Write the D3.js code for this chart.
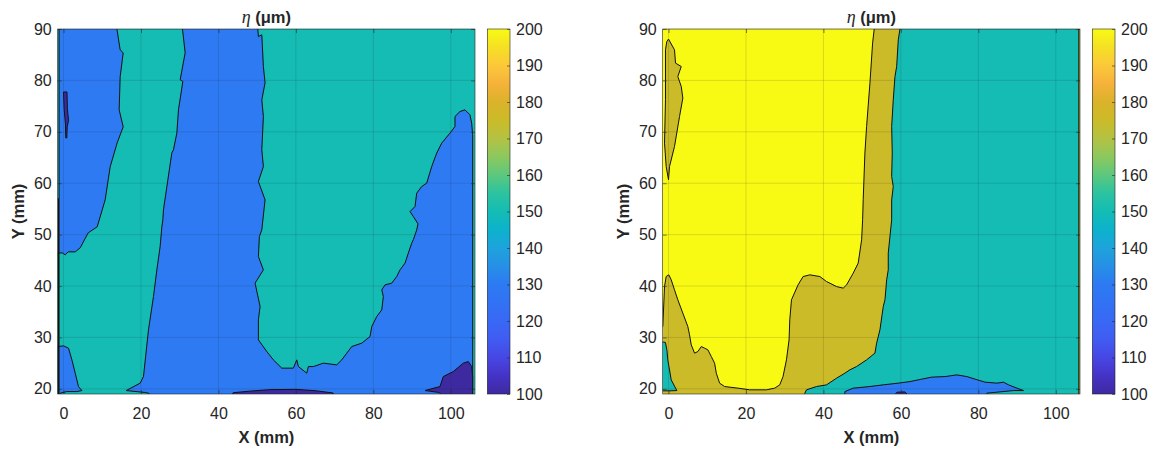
<!DOCTYPE html>
<html><head><meta charset="utf-8">
<script src="https://cdn.jsdelivr.net/npm/d3@7"></script>
<style>
body{margin:0;background:#fff}
svg{display:block}
</style></head>
<body><svg id="chart" width="1153" height="450"></svg>
<script>
// ---------- data ----------
const xDomain = [-1.5, 106.25];
const yDomain = [19, 90];
const xTicks = [0, 20, 40, 60, 80, 100];
const yTicks = [20, 30, 40, 50, 60, 70, 80, 90];
const cbTicks = [100, 110, 120, 130, 140, 150, 160, 170, 180, 190, 200];
const titleSymbol = "η";
const titleUnit = " (μm)";
const xLabel = "X (mm)";
const yLabel = "Y (mm)";

// parula-like colormap (value -> colour)
const colormap = [
  [100, "#3d2aa0"], [105, "#4533c6"], [110, "#4747e4"], [115, "#405cf2"],
  [120, "#3968f5"], [125, "#3272f4"], [130, "#2d7af3"], [135, "#2690e6"],
  [140, "#1ea3dc"], [145, "#0cb2cc"], [150, "#14bcb4"], [155, "#2cc3a0"],
  [160, "#5cc87e"], [165, "#8cc85e"], [170, "#b4c242"], [175, "#cbbb28"],
  [180, "#dab22a"], [185, "#f5b23a"], [190, "#fcc83a"], [195, "#f5e024"],
  [200, "#f8fa14"]
];

// ----- left panel: contour regions [x mm, y mm] -----
const leftBase = 130;
const leftTealWest = [[13.78,91],[30.71,91],[30.71,90.04],[31.41,85.37],[30.12,80.12],[30.81,79.8],[29.68,74.28],[29.26,69.75],[28.39,66.5],[27.97,65.91],[26.68,59.3],[25.81,54.82],[25.65,52.88],[25.39,51.52],[24.95,47.68],[24.1,43.15],[23.23,37.96],[21.94,31.48],[20.65,22.39],[19.79,21.11],[16.18,19.67],[21,19.3],[22,19.15],[22.5,18],[-3,18],[-3,46.3],[-0.34,46.46],[0.44,46.07],[1.21,46.65],[3.02,46.65],[4.31,47.43],[6.37,50.35],[8.7,51.52],[10.76,56.77],[12.05,63.19],[13.86,67.86],[15.41,70.97],[14.37,74.28],[14.63,80.7],[15.41,85.37],[14.63,85.95],[13.78,90.04]];
const leftTealEast = [[50.17,91],[108,91],[108,18],[105.65,18],[105.65,69.42],[105.39,71.69],[104.95,73.31],[103.66,74.28],[102.37,73.95],[101.08,72.98],[101.08,71.03],[99.79,69.75],[97.65,67.8],[96.36,65.86],[95.07,63.25],[93.78,60.02],[92.49,59.36],[91.2,58.07],[90.76,55.47],[89.47,54.49],[90.32,53.52],[91.54,52.1],[91.2,50.93],[90.32,48.99],[89.91,48.35],[89.03,46.4],[88.18,44.46],[86.89,43.15],[86.04,41.85],[84.75,40.56],[83.02,40.23],[82.17,39.26],[82.58,37.96],[82.17,35.37],[80.88,34.07],[79.59,32.12],[79.15,30.18],[77.01,28.89],[74.43,28.23],[73.14,26.95],[71.85,25.64],[70.55,24.67],[67.1,25],[64.52,24.34],[63.23,24.34],[62.81,23.05],[60.65,24.34],[60.23,25.64],[59.35,24.03],[56.36,24.03],[54.19,25.64],[52.49,27.26],[50.32,29.53],[50.32,33.42],[50.76,36.01],[49.47,40.56],[51.61,43.15],[50.32,45.74],[50.58,49.63],[51.2,50.93],[52.05,56.77],[50.32,60.33],[51.61,63.25],[51.2,66.5],[51.61,72.98],[51.2,76.22],[52.05,79.53],[51.61,82.7],[51.2,88.87],[50.32,88.54],[50.17,90.04]];
const leftBlueCorner = [[-3,28.3],[-1.29,28.23],[0,28.37],[1.29,27.92],[2.17,25.64],[3.02,23.05],[3.87,20.45],[4.75,19.67],[3.46,19.47],[0.88,19.47],[-0.85,19.16],[-0.9,18],[-3,18]];
const leftPurpleSpot = [[0,77.75],[0.9,77.75],[1.0,74.5],[1.3,72.2],[0.95,71.0],[0.85,68.8],[0.6,68.8],[0.5,71.5],[0.15,74.5]];
const leftPurpleBottom = [[43,18],[43.8,19.25],[48,19.55],[53.3,19.85],[60,19.9],[65,19.65],[69.6,19.2],[70.5,18]];
const leftPurpleCorner = [[93.34,19.67],[97.21,20.45],[98.06,22.39],[100.65,23.37],[103.23,25.0],[104.52,25.31],[105.39,24.34],[105.65,22.39],[105.65,18],[98.5,18],[97,19.3]];
const leftEdgeTeal = [[-3,91],[-1.15,91],[-1.15,18],[-3,18]];
const leftEdgeOlive = [[-3,57],[-1.3,57],[-1.3,18],[-3,18]];

// ----- right panel: contour regions [x mm, y mm] -----
const rightBase = 175;
const rightYellow = [[-3,91],[53.12,91],[53.12,90.04],[52.7,87.26],[52.01,79.47],[51.15,71.03],[50.71,65.86],[50.27,56.77],[50.12,52.88],[49.86,48.99],[48.98,44.46],[47.69,42.51],[45.98,40.23],[45.1,39.59],[43.39,39.9],[40.8,40.88],[39.07,41.85],[36.48,42.18],[34.75,41.85],[33.45,40.23],[31.75,37.32],[31.31,33.42],[31.13,29.53],[30.45,25.64],[29.57,22.39],[28.72,20.78],[27.43,20.14],[25.28,19.81],[20.96,19.81],[17.93,20.14],[14.49,20.45],[13.2,21.11],[12.34,23.05],[11.9,25.0],[11.05,26.28],[10.17,27.59],[9.31,27.92],[8.46,28.23],[7.58,27.26],[6.73,26.95],[5.87,28.56],[5.43,30.51],[4.99,32.12],[3.7,34.73],[2.41,37.32],[1.55,39.26],[0.7,41.21],[0.08,42.18],[-0.6,41.85],[-1.03,39.9],[-1.47,32.12],[-3,31]];
const rightOliveSliver = [[-0.44,87.57],[0,88.04],[1.55,85.95],[1.81,83.37],[3.29,82.7],[2.41,80.76],[3.29,78.81],[3.7,76.56],[2.85,72.98],[1.55,67.14],[0.26,63.25],[0,60.66],[-0.6,63.25],[-1.03,67.8],[-0.78,76.22],[-0.78,85.95]];
const rightTealEast = [[59.77,91],[108,91],[108,18],[35.19,18],[35.19,19.16],[35.63,19.81],[38.21,20.45],[40.8,20.78],[43.39,22.08],[45.54,23.05],[46.83,23.7],[48.56,24.34],[51.15,25.64],[53.3,26.95],[53.74,28.89],[54.59,31.48],[55.45,36.01],[55.89,37.32],[56.33,41.21],[56.74,43.15],[56.74,46.4],[57.62,52.88],[57.62,56.77],[58.03,59.36],[57.62,61.3],[57.77,65.86],[57.62,71.03],[58.03,76.22],[58.47,80.76],[58.91,82.7],[59.33,87.9],[59.77,90.04]];
const rightTealCorner = [[-3,29.1],[-1.2,29.1],[-0.78,29.01],[-0.4,27.5],[-0.18,25.64],[0.7,21.75],[2.15,19.67],[0.26,19.61],[-1.47,19.61],[-3,19.61]];
const rightBlueBottom = [[45.54,18],[45.54,19.47],[47.69,20.14],[52.01,20.45],[55.45,20.78],[59.33,21.11],[62.35,21.42],[65.38,21.89],[67.97,22.28],[71.41,22.39],[74.44,22.72],[77.03,22.39],[79.17,21.89],[81.76,21.3],[84.79,21.11],[86.49,21.3],[87.79,20.78],[89.96,20.14],[91.67,19.67],[89.08,19.67],[82.2,19.16],[81.5,18]];
const rightPurpleBottom = [[57.5,18],[59,19.35],[61,19.4],[63,18]];
const rightEdgeOlive = [[105.95,91],[108,91],[108,18],[105.95,18]];

const leftLayers = [
  {level: 150, pts: leftTealWest},
  {level: 150, pts: leftTealEast},
  {level: 130, pts: leftBlueCorner},
  {level: 100, pts: leftPurpleSpot},
  {level: 100, pts: leftPurpleBottom},
  {level: 100, pts: leftPurpleCorner},
  {level: 150, pts: leftEdgeTeal},
  {level: 175, pts: leftEdgeOlive}
];
const rightLayers = [
  {level: 200, pts: rightYellow},
  {level: 175, pts: rightOliveSliver},
  {level: 150, pts: rightTealEast},
  {level: 150, pts: rightTealCorner},
  {level: 130, pts: rightBlueBottom},
  {level: 100, pts: rightPurpleBottom},
  {level: 175, pts: rightEdgeOlive}
];

// ---------- drawing ----------
const svg = d3.select("#chart");
const color = d3.scaleLinear()
  .domain(colormap.map(d => d[0]))
  .range(colormap.map(d => d[1]))
  .interpolate(d3.interpolateRgb);

const FONT = "'Liberation Sans', Arial, Helvetica, sans-serif";
const INK = "#262626";
const TICK_FS = 16, LABEL_FS = 16.5;
const yTop = 29, yBottom = 394;

const defs = svg.append("defs");
const grad = defs.append("linearGradient")
  .attr("id", "cmap").attr("x1", 0).attr("y1", 1).attr("x2", 0).attr("y2", 0);
colormap.forEach(d => grad.append("stop")
  .attr("offset", (d[0] - 100) / 100)
  .attr("stop-color", d[1]));

const panels = [
  {id: "L", x0: 57.7, x1: 475, cb0: 487.3, cb1: 510, base: leftBase, layers: leftLayers, ylabX: 24},
  {id: "R", x0: 662.7, x1: 1080, cb0: 1092.3, cb1: 1115, base: rightBase, layers: rightLayers, ylabX: 629}
];

panels.forEach(p => {
  const x = d3.scaleLinear().domain(xDomain).range([p.x0, p.x1]);
  const y = d3.scaleLinear().domain(yDomain).range([yBottom, yTop]);
  const line = d3.line().x(d => x(d[0])).y(d => y(d[1]));

  defs.append("clipPath").attr("id", "clip" + p.id)
    .append("rect").attr("x", p.x0).attr("y", yTop)
    .attr("width", p.x1 - p.x0).attr("height", yBottom - yTop);

  const g = svg.append("g").attr("clip-path", `url(#clip${p.id})`);
  g.append("rect").attr("x", p.x0).attr("y", yTop)
    .attr("width", p.x1 - p.x0).attr("height", yBottom - yTop)
    .attr("fill", color(p.base));
  g.selectAll("path.region").data(p.layers).join("path")
    .attr("class", "region")
    .attr("d", d => line(d.pts) + "Z")
    .attr("fill", d => color(d.level))
    .attr("stroke", "#111")
    .attr("stroke-width", 1)
    .attr("stroke-linejoin", "round");

  // grid
  g.selectAll("line.gx").data(xTicks).join("line").attr("class", "gx")
    .attr("x1", d => x(d)).attr("x2", d => x(d)).attr("y1", yTop).attr("y2", yBottom)
    .attr("stroke", INK).attr("stroke-opacity", 0.15).attr("stroke-width", 1);
  g.selectAll("line.gy").data(yTicks).join("line").attr("class", "gy")
    .attr("y1", d => y(d)).attr("y2", d => y(d)).attr("x1", p.x0).attr("x2", p.x1)
    .attr("stroke", INK).attr("stroke-opacity", 0.15).attr("stroke-width", 1);

  // axes
  const styleAxis = sel => {
    sel.attr("font-size", TICK_FS).attr("font-family", FONT).attr("color", INK);
    sel.select(".domain").remove();
    sel.selectAll(".tick line").attr("stroke-width", 0.6);
  };
  svg.append("g").attr("transform", `translate(0,${yBottom})`)
    .call(d3.axisBottom(x).tickValues(xTicks).tickSizeInner(-4).tickSizeOuter(0).tickPadding(13.5))
    .call(styleAxis);
  svg.append("g").attr("transform", `translate(${p.x0},0)`)
    .call(d3.axisLeft(y).tickValues(yTicks).tickSizeInner(-4).tickSizeOuter(0).tickPadding(6))
    .call(styleAxis);
  svg.append("g").attr("transform", `translate(0,${yTop})`)
    .call(d3.axisTop(x).tickValues(xTicks).tickSizeInner(-4).tickSizeOuter(0).tickFormat(""))
    .call(styleAxis);
  svg.append("g").attr("transform", `translate(${p.x1},0)`)
    .call(d3.axisRight(y).tickValues(yTicks).tickSizeInner(-4).tickSizeOuter(0).tickFormat(""))
    .call(styleAxis);

  svg.append("rect").attr("x", p.x0).attr("y", yTop)
    .attr("width", p.x1 - p.x0).attr("height", yBottom - yTop)
    .attr("fill", "none").attr("stroke", INK).attr("stroke-width", 0.6);

  // title
  const cx = (p.x0 + p.x1) / 2;
  const t = svg.append("text").attr("x", cx).attr("y", 23)
    .attr("text-anchor", "middle").attr("font-family", FONT)
    .attr("font-size", LABEL_FS).attr("font-weight", "bold").attr("fill", INK);
  t.append("tspan").attr("font-family", "'Liberation Serif', 'DejaVu Serif', serif")
    .attr("font-size", 18)
    .attr("font-style", "italic").attr("font-weight", "normal").text(titleSymbol);
  t.append("tspan").text(titleUnit);

  // axis labels
  svg.append("text").attr("x", cx).attr("y", 443).attr("text-anchor", "middle")
    .attr("font-family", FONT).attr("font-size", LABEL_FS).attr("font-weight", "bold")
    .attr("fill", INK).text(xLabel);
  svg.append("text").attr("transform", `translate(${p.ylabX},${(yTop + yBottom) / 2}) rotate(-90)`)
    .attr("text-anchor", "middle")
    .attr("font-family", FONT).attr("font-size", LABEL_FS).attr("font-weight", "bold")
    .attr("fill", INK).text(yLabel);

  // colorbar
  const cy = d3.scaleLinear().domain([100, 200]).range([yBottom, yTop]);
  svg.append("rect").attr("x", p.cb0).attr("y", yTop)
    .attr("width", p.cb1 - p.cb0).attr("height", yBottom - yTop)
    .attr("fill", "url(#cmap)").attr("stroke", INK).attr("stroke-width", 0.6);
  svg.append("g").attr("transform", `translate(${p.cb1},0)`)
    .call(d3.axisRight(cy).tickValues(cbTicks).tickSizeInner(-3).tickSizeOuter(0).tickPadding(6))
    .call(styleAxis);
});
</script>
</body></html>
